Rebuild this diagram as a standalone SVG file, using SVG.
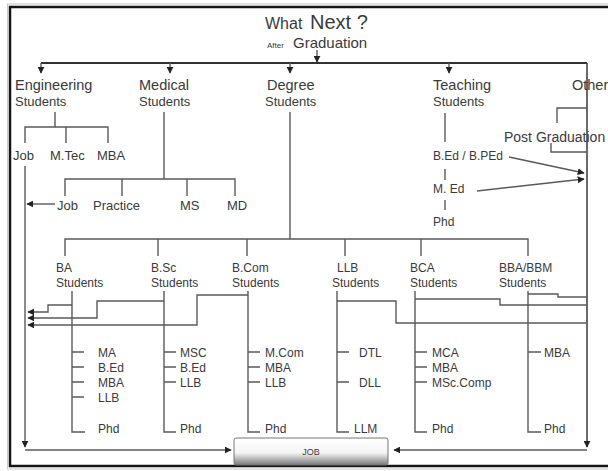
<svg xmlns="http://www.w3.org/2000/svg" width="608" height="471" viewBox="0 0 608 471">
<defs>
<style>
.t{font-family:"Liberation Sans",Arial,sans-serif;fill:#3a3a3a}
.h{font-size:14.5px}
.s{font-size:13px}
.i{font-size:12px}
.ln{stroke:#5a5a5a;stroke-width:1.4;fill:none}
.dk{stroke:#333;stroke-width:2;fill:none}
</style>
<marker id="ah" viewBox="0 0 10 10" refX="9" refY="5" markerWidth="7" markerHeight="7" markerUnits="userSpaceOnUse" orient="auto">
<path d="M0,0 L10,5 L0,10 z" fill="#222"/>
</marker>
<linearGradient id="btn" x1="0" y1="0" x2="0" y2="1">
<stop offset="0" stop-color="#ffffff"/>
<stop offset="0.55" stop-color="#f4f4f4"/>
<stop offset="1" stop-color="#7a7a7a"/>
</linearGradient>
</defs>
<rect width="608" height="471" fill="#fff"/>
<rect x="7.5" y="4" width="640" height="465" fill="none" stroke="#c8c8c8" stroke-width="1"/>
<rect x="10" y="7" width="630" height="459" fill="none" stroke="#151515" stroke-width="2.5"/>

<g id="title">
<text class="t" x="265" y="29" font-size="16">What</text>
<text class="t" x="310" y="29" font-size="20">Next ?</text>
<text class="t" x="267" y="48" font-size="8">After</text>
<text class="t" x="293" y="48" font-size="15">Graduation</text>
</g>

<g id="connectors">
<path class="dk" d="M41,63 H587"/>
<path class="ln" d="M317,50 V62" marker-end="url(#ah)"/>
<path class="ln" d="M41,63 V73" marker-end="url(#ah)"/>
<path class="ln" d="M170,63 V73" marker-end="url(#ah)"/>
<path class="ln" d="M290,63 V73" marker-end="url(#ah)"/>
<path class="ln" d="M449,63 V73" marker-end="url(#ah)"/>
<path class="ln" d="M587,63 V447" marker-end="url(#ah)" style="stroke:#444;stroke-width:1.6"/>
<path class="ln" d="M587,450 H394" marker-end="url(#ah)"/>
<path class="ln" d="M25,166 V447" marker-end="url(#ah)"/>
<path class="ln" d="M25,450 H231" marker-end="url(#ah)"/>
<!-- engineering -->
<path class="ln" d="M55,112 V127 M25,143 V127 H108 V143 M66,127 V143"/>
<!-- medical -->
<path class="ln" d="M164,112 V179 M65,196 V179 H235 V196 M122,179 V196 M187,179 V196"/>
<path class="ln" d="M55,204 H27" marker-end="url(#ah)"/>
<!-- degree -->
<path class="ln" d="M290,112 V239 M65,256 V239 H528 V256 M158,239 V256 M247,239 V256 M345,239 V256 M421,239 V256"/>
<!-- BA -->
<path class="ln" d="M72,291 V432 H85 M72,352 H84 M72,367 H84 M72,382 H84 M72,397 H84"/>
<path class="ln" d="M72,305 H48 V312 H28" marker-end="url(#ah)"/>
<!-- BSc -->
<path class="ln" d="M164,291 V432 H176 M164,352 H176 M164,367 H176 M164,382 H176"/>
<path class="ln" d="M164,301 H97 V318 H28" marker-end="url(#ah)"/>
<!-- BCom -->
<path class="ln" d="M248,291 V432 H260 M248,352 H260 M248,367 H260 M248,382 H260"/>
<path class="ln" d="M248,295 H197 V325 H28" marker-end="url(#ah)"/>
<!-- LLB -->
<path class="ln" d="M337,291 V432 H349 M337,352 H349 M337,382 H349"/>
<path class="ln" d="M337,301 H396 V323 H587"/>
<!-- BCA -->
<path class="ln" d="M415,291 V432 H427 M415,352 H427 M415,367 H427 M415,382 H427"/>
<path class="ln" d="M415,299 H500 V305 H587"/>
<!-- BBA -->
<path class="ln" d="M528,291 V432 H541 M528,352 H541"/>
<path class="ln" d="M528,294 H558 V297 H587"/>
<!-- teaching -->
<path class="ln" d="M445,113 V142 M445,169 V180 M445,200 V210"/>
<path class="ln" d="M509,157 L584,173" marker-end="url(#ah)"/>
<path class="ln" d="M477,191 L584,179" marker-end="url(#ah)"/>
<!-- post graduation brackets -->
<path class="ln" d="M557,123 V108 H587 M551,143 V152 H587"/>
</g>

<g id="engineering">
<text class="t h" x="15" y="90">Engineering</text>
<text class="t s" x="15" y="106">Students</text>
<text class="t s" x="13" y="160">Job</text>
<text class="t s" x="50" y="160">M.Tec</text>
<text class="t s" x="97" y="160">MBA</text>
</g>

<g id="medical">
<text class="t h" x="139" y="90">Medical</text>
<text class="t s" x="139" y="106">Students</text>
<text class="t s" x="57" y="210">Job</text>
<text class="t s" x="93" y="210">Practice</text>
<text class="t s" x="180" y="210">MS</text>
<text class="t s" x="227" y="210">MD</text>
</g>

<g id="degree">
<text class="t h" x="267" y="90">Degree</text>
<text class="t s" x="265" y="106">Students</text>
</g>

<g id="teaching">
<text class="t h" x="433" y="90">Teaching</text>
<text class="t s" x="433" y="106">Students</text>
<text class="t i" x="433" y="160">B.Ed / B.PEd</text>
<text class="t i" x="433" y="193">M. Ed</text>
<text class="t i" x="433" y="226">Phd</text>
</g>

<g id="others">
<text class="t h" x="572" y="90">Others</text>
<text class="t" x="504" y="142" font-size="14">Post Graduation</text>
</g>

<g id="ba">
<text class="t i" x="56" y="272">BA</text>
<text class="t i" x="56" y="287">Students</text>
<text class="t i" x="98" y="357">MA</text>
<text class="t i" x="98" y="372">B.Ed</text>
<text class="t i" x="98" y="387">MBA</text>
<text class="t i" x="98" y="402">LLB</text>
<text class="t i" x="98" y="433">Phd</text>
</g>

<g id="bsc">
<text class="t i" x="151" y="272">B.Sc</text>
<text class="t i" x="151" y="287">Students</text>
<text class="t i" x="180" y="357">MSC</text>
<text class="t i" x="180" y="372">B.Ed</text>
<text class="t i" x="180" y="387">LLB</text>
<text class="t i" x="180" y="433">Phd</text>
</g>

<g id="bcom">
<text class="t i" x="232" y="272">B.Com</text>
<text class="t i" x="232" y="287">Students</text>
<text class="t i" x="265" y="357">M.Com</text>
<text class="t i" x="265" y="372">MBA</text>
<text class="t i" x="265" y="387">LLB</text>
<text class="t i" x="265" y="433">Phd</text>
</g>

<g id="llb">
<text class="t i" x="337" y="272">LLB</text>
<text class="t i" x="332" y="287">Students</text>
<text class="t i" x="359" y="357">DTL</text>
<text class="t i" x="359" y="387">DLL</text>
<text class="t i" x="354" y="433">LLM</text>
</g>

<g id="bca">
<text class="t i" x="410" y="272">BCA</text>
<text class="t i" x="410" y="287">Students</text>
<text class="t i" x="432" y="357">MCA</text>
<text class="t i" x="432" y="372">MBA</text>
<text class="t i" x="432" y="387">MSc.Comp</text>
<text class="t i" x="432" y="433">Phd</text>
</g>

<g id="bba">
<text class="t i" x="499" y="272">BBA/BBM</text>
<text class="t i" x="499" y="287">Students</text>
<text class="t i" x="544" y="357">MBA</text>
<text class="t i" x="544" y="433">Phd</text>
</g>

<g id="job">
<rect x="234" y="438" width="154" height="27" rx="2" fill="url(#btn)" stroke="#777" stroke-width="1"/>
<text class="t" x="311" y="455" font-size="9" text-anchor="middle">JOB</text>
</g>
</svg>
